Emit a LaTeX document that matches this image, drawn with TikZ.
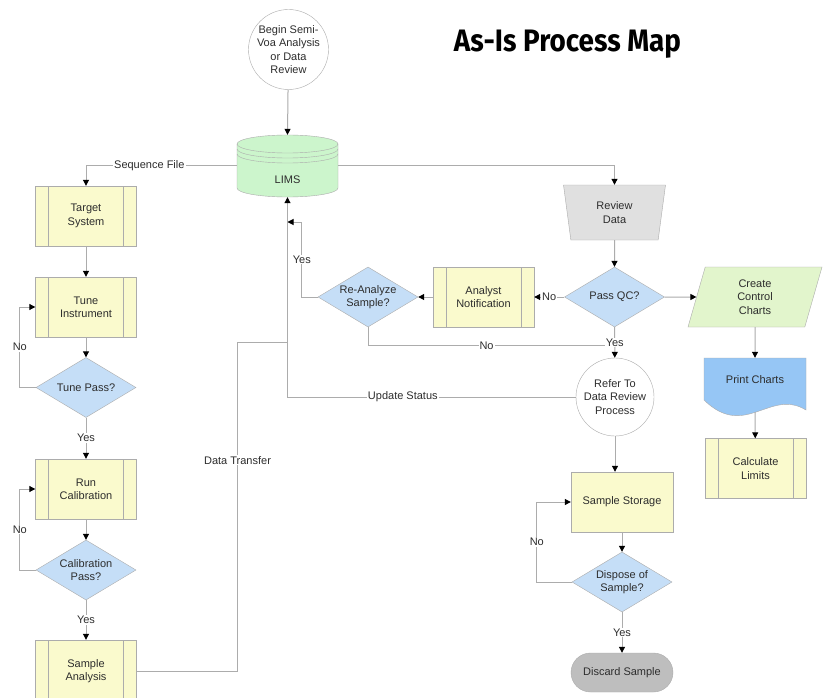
\documentclass[tikz,border=0pt]{standalone}
\usepackage{fontspec}
\setmainfont{Liberation Sans}
\newfontfamily\titlefont{Fira Sans}
\usetikzlibrary{arrows,arrows.meta,shapes.geometric}
\definecolor{linegray}{RGB}{172,172,172}
\definecolor{txtgray}{RGB}{45,45,45}
\definecolor{boxyellow}{RGB}{250,250,205}
\definecolor{diablue}{RGB}{197,222,247}
\definecolor{limsgreen}{RGB}{204,245,204}
\definecolor{chartgreen}{RGB}{226,245,204}
\definecolor{printblue}{RGB}{150,198,245}
\definecolor{reviewgray}{RGB}{224,224,224}
\definecolor{discardgray}{RGB}{190,190,190}

\begin{document}
\begin{tikzpicture}[x=1pt,y=-1pt,font=\fontsize{11}{13.3}\selectfont,text=txtgray,
  every node/.append style={align=center},
  flow/.style={draw=linegray,line width=1pt,-{Triangle[black,length=6pt,width=6pt]}},
  link/.style={draw=linegray,line width=1pt},
  lbl/.style={fill=white,inner sep=1pt},
  subproc/.style={draw=linegray,fill=boxyellow,minimum width=101pt,minimum height=60pt,inner sep=0pt,
    path picture={\draw[linegray] ([xshift=13pt]path picture bounding box.north west) -- ([xshift=13pt]path picture bounding box.south west);
      \draw[linegray] ([xshift=-13pt]path picture bounding box.north east) -- ([xshift=-13pt]path picture bounding box.south east);}},
  proc/.style={draw=linegray,fill=boxyellow,minimum width=102pt,minimum height=60pt,inner sep=0pt},
  decision/.style={diamond,draw=linegray,fill=diablue,aspect=1.67,minimum width=100pt,minimum height=60pt,inner sep=0pt},
  event/.style={circle,draw=linegray,fill=white,minimum size=80pt,inner sep=0pt},
  manual/.style={trapezium,trapezium angle=71,shape border rotate=180,trapezium stretches body,draw=linegray,fill=reviewgray,minimum width=102pt,minimum height=55pt,inner sep=0pt},
  datain/.style={trapezium,trapezium left angle=63.4,trapezium right angle=116.6,trapezium stretches body,draw=linegray,fill=chartgreen,minimum width=134pt,minimum height=60pt,inner sep=0pt},
  terminal/.style={draw=linegray,fill=discardgray,rounded corners=19.5pt,minimum width=102pt,minimum height=39pt,inner sep=0pt}]
\path[use as bounding box,fill=white] (0,0) rectangle (830,698);

\node[anchor=base,text=black] (title) at (567.5,51.7) {\resizebox{227pt}{21.5pt}{\titlefont\bfseries As-Is Process Map}};

\node[event] (begin) at (288.5,49.5) {Begin Semi-\\Voa Analysis\\or Data\\Review};

\pgfmathsetmacro{\limsx}{237}
\pgfmathsetmacro{\limsw}{101}
\pgfmathsetmacro{\limstop}{144}
\pgfmathsetmacro{\limsbot}{188}
\filldraw[draw=linegray,fill=limsgreen] (\limsx,\limstop) -- (\limsx,\limsbot) arc[start angle=180,end angle=360,x radius=50.5pt,y radius=9pt] -- (\limsx+\limsw,\limstop) arc[start angle=0,end angle=180,x radius=50.5pt,y radius=9pt] -- cycle;
\draw[linegray] (\limsx,\limstop) arc[start angle=180,end angle=360,x radius=50.5pt,y radius=9pt];
\draw[linegray] (\limsx,\limstop+5) arc[start angle=180,end angle=360,x radius=50.5pt,y radius=9pt];
\draw[linegray] (\limsx,\limstop+10) arc[start angle=180,end angle=360,x radius=50.5pt,y radius=9pt];
\node[minimum width=101pt,minimum height=62pt,inner sep=0pt] (lims) at (287.5,166) {};
\node at (287.5,180) {LIMS};

\node[subproc] (target) at (86,216) {Target\\System};
\node[subproc] (tune) at (86,307) {Tune\\Instrument};
\node[decision] (tunepass) at (86,387.5) {Tune Pass?};
\node[subproc] (runcal) at (86,489) {Run\\Calibration};
\node[decision] (calpass) at (86,570) {Calibration\\Pass?};
\node[subproc,minimum height=62pt] (analysis) at (86,671) {Sample\\Analysis};

\node[decision] (reanalyze) at (368,297) {Re-Analyze\\Sample?};
\node[subproc] (notify) at (483.5,297) {Analyst\\Notification};
\node[decision] (passqc) at (614.5,297) {Pass QC?};
\node[manual] (review) at (614.5,212.5) {Review\\Data};
\node[datain] (charts) at (755,297) {Create\\Control\\Charts};

\filldraw[draw=linegray,fill=printblue] (704,358) -- (806,358) -- (806,410) .. controls (770,388) and (745,440) .. (704,400) -- cycle;
\node[minimum width=102pt,minimum height=44pt,inner sep=0pt] (print) at (755,380) {Print Charts};
\coordinate (printwave) at (755,412);
\node[subproc] (calc) at (755.5,468.5) {Calculate\\Limits};

\node[event,minimum size=78pt] (refer) at (615,397) {Refer To\\Data Review\\Process};
\node[proc] (storage) at (622,502) {Sample Storage};
\node[decision] (dispose) at (622,582) {Dispose of\\Sample?};
\node[terminal] (discard) at (622,672.5) {Discard Sample};

\coordinate (yesjoin) at (287.5,222);
\coordinate (dtjoin) at (287.5,342);
\coordinate (nojoin) at (615,345.5);

\draw[flow] (begin) -- (lims.north);
\draw[flow] (lims.west) -| node[lbl,pos=0.29]{Sequence File} (target.north);
\draw[flow] (lims.east) -| (review.north);
\draw[flow] (target) -- (tune);
\draw[flow] (tune) -- (tunepass);
\draw[flow] (tunepass.west) -- ++(-16,0) |- node[lbl,pos=0.25]{No} (tune.west);
\draw[flow] (tunepass) -- node[lbl]{Yes} (runcal);
\draw[flow] (runcal) -- (calpass);
\draw[flow] (calpass.west) -- ++(-16,0) |- node[lbl,pos=0.25]{No} (runcal.west);
\draw[flow] (calpass) -- node[lbl]{Yes} (analysis);
\draw[link] (analysis.east) -| node[lbl,pos=0.82]{Data Transfer} ([xshift=-50pt]dtjoin) -- (dtjoin);
\draw[flow] (refer.west) -| node[lbl,pos=0.3]{Update Status} (lims.south);
\draw[flow] (reanalyze.west) -- ++(-16,0) |- node[lbl,pos=0.25]{Yes} (yesjoin);
\draw[flow] (notify) -- (reanalyze);
\draw[flow] (review) -- (passqc);
\draw[flow] (passqc) -- node[lbl]{No} (notify);
\draw[flow] (passqc) -- (charts);
\draw[flow] (charts) -- (print);
\draw[flow] (printwave) -- (calc);
\draw[link] (reanalyze.south) |- node[lbl,pos=0.74]{No} (nojoin);
\draw[flow] (passqc) -- node[lbl]{Yes} (refer);
\draw[flow] (refer.south) -- (refer.south |- storage.north);
\draw[flow] (storage) -- (dispose);
\draw[flow] (dispose.west) -- ++(-35,0) |- node[lbl,pos=0.25]{No} (storage.west);
\draw[flow] (dispose) -- node[lbl]{Yes} (discard);
\end{tikzpicture}
\end{document}
